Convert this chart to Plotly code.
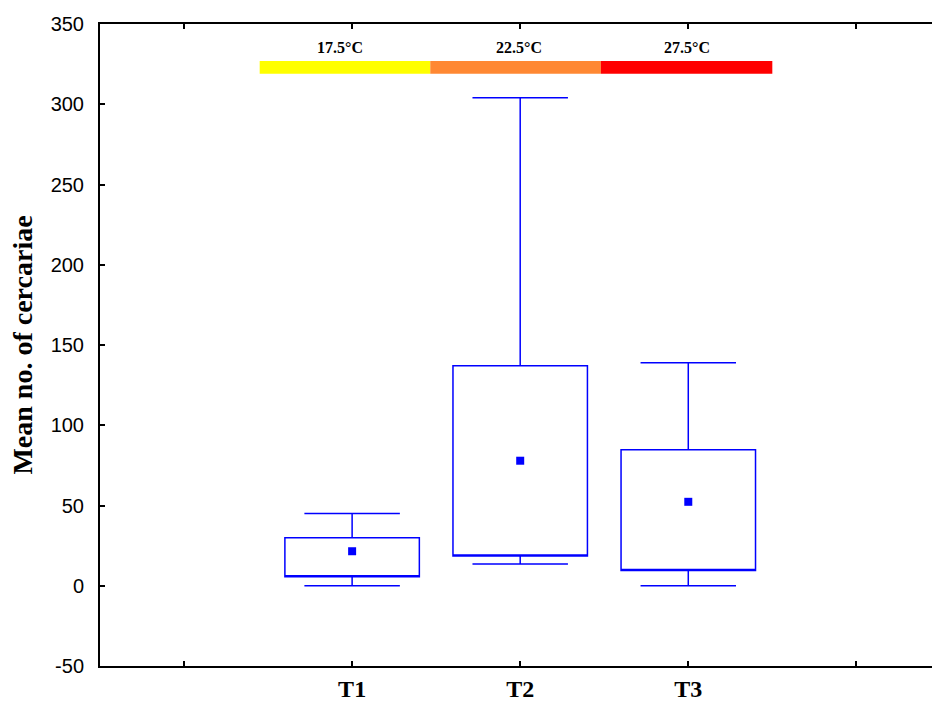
import plotly.graph_objects as go

# ---- data ----
categories = ["T1", "T2", "T3"]
cat_pos = [2, 3, 4]
q1 = [5.6, 18.5, 9.5]
q3 = [29.9, 137.0, 84.7]
lower = [0.0, 13.5, 0.0]
upper = [45.0, 304.0, 139.0]
means = [21.5, 77.9, 52.3]

tick_vals = [1, 2, 3, 4, 5]
tick_text = ["", "T1", "T2", "T3", ""]
y_tick_vals = [-50, 0, 50, 100, 150, 200, 250, 300, 350]
y_tick_text = ["-50", "0", "50", "100", "150", "200", "250", "300", "350"]

temp_labels = ["17.5°C", "22.5°C", "27.5°C"]
temp_label_x = [1.93, 2.99, 3.99]
temp_edges = [1.45, 2.465, 3.48, 4.5]
temp_colors = ["#FFFF00", "#FF8833", "#FF0000"]
temp_bar_y = [319, 327]
temp_label_y = 335.5

blue = "#0000FF"

fig = go.Figure()
for i, c in enumerate(categories):
    fig.add_trace(go.Box(
        x=[cat_pos[i]], q1=[q1[i]], median=[q1[i]], q3=[q3[i]],
        lowerfence=[lower[i]], upperfence=[upper[i]],
        width=0.8, whiskerwidth=0.71,
        line=dict(color=blue, width=1.5), fillcolor="rgba(0,0,0,0)",
        boxpoints=False, showlegend=False, hoverinfo="skip",
    ))

fig.add_trace(go.Scatter(
    x=cat_pos, y=means, mode="markers",
    marker=dict(symbol="square", size=8, color=blue),
    showlegend=False, hoverinfo="skip",
))

for i in range(3):
    fig.add_shape(type="rect", xref="x", yref="y",
                  x0=temp_edges[i], x1=temp_edges[i + 1],
                  y0=temp_bar_y[0], y1=temp_bar_y[1],
                  fillcolor=temp_colors[i], line=dict(width=0), layer="above")
    fig.add_annotation(x=temp_label_x[i], y=temp_label_y, text=temp_labels[i],
                       showarrow=False, yanchor="middle",
                       font=dict(family="Liberation Serif", size=16, color="black", weight="bold"))

fig.update_layout(
    width=932, height=703,
    margin=dict(l=100, r=0, t=24, b=37),
    plot_bgcolor="white", paper_bgcolor="white",
    xaxis=dict(range=[0.5, 5.45], tickvals=tick_vals, ticktext=tick_text,
               automargin=False,
               showline=True, linecolor="black", linewidth=2, mirror="ticks",
               ticks="inside", ticklen=5, tickwidth=1.5, tickcolor="black",
               showgrid=False, zeroline=False, ticklabelstandoff=0,
               tickfont=dict(family="Liberation Serif", size=24, color="black", weight="bold")),
    yaxis=dict(range=[-50, 350], tickvals=y_tick_vals, ticktext=y_tick_text,
               automargin=False,
               showline=True, linecolor="black", linewidth=2, mirror=False,
               ticks="inside", ticklen=5, tickwidth=1.5, tickcolor="black",
               showgrid=False, zeroline=False, ticklabelstandoff=10,
               tickfont=dict(family="Liberation Sans", size=20, color="black"),
               title=dict(text="Mean no. of cercariae", standoff=10,
                          font=dict(family="Liberation Serif", size=28, color="black", weight="bold"))),
)

fig.write_html("out.html")
